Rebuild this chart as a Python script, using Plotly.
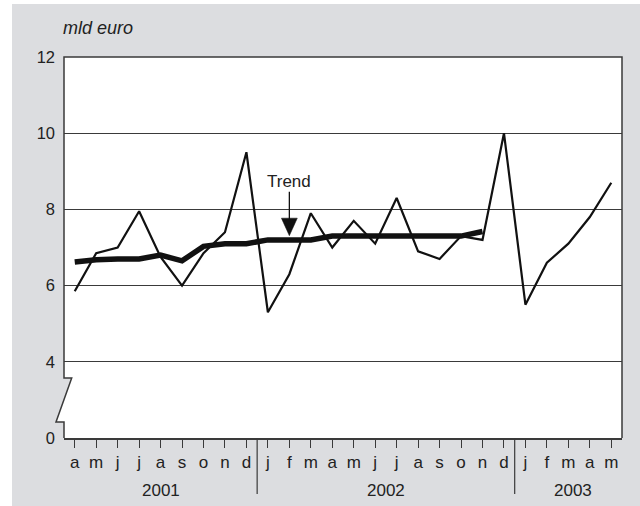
import plotly.graph_objects as go

# ---- data ----
months = ["a", "m", "j", "j", "a", "s", "o", "n", "d",
          "j", "f", "m", "a", "m", "j", "j", "a", "s", "o", "n", "d",
          "j", "f", "m", "a", "m"]
years = ["2001", "2002", "2003"]
year_centers = [4, 14.5, 23.2]
year_breaks = [8.5, 20.5]
series = [5.85, 6.85, 7.0, 7.95, 6.75, 6.0, 6.85, 7.4, 9.5,
          5.3, 6.3, 7.9, 7.0, 7.7, 7.1, 8.3, 6.9, 6.7, 7.3, 7.2, 10.0,
          5.5, 6.6, 7.1, 7.8, 8.7]
trend = [6.62, 6.68, 6.7, 6.7, 6.8, 6.65, 7.03, 7.1, 7.1,
         7.2, 7.2, 7.2, 7.3, 7.3, 7.3, 7.3, 7.3, 7.3, 7.3, 7.42]
ytick_vals = [2, 4, 6, 8, 10, 12]      # axis is broken: "0" is drawn at 2
ytick_text = ["0", "4", "6", "8", "10", "12"]

W, H = 640, 506
ML, MR, MT, MB = 64, 18, 57, 68
PW, PH = W - ML - MR, H - MT - MB
GRAY = "#dcdde0"
LINE = "#3a3a3a"
TXT = "#222222"
FONT = "Arial, Liberation Sans, sans-serif"


def px(x):
    return (x - ML) / PW


def py(y):
    return (H - MB - y) / PH


x_idx = list(range(len(months)))

fig = go.Figure()
fig.add_trace(go.Scatter(x=x_idx, y=series, mode="lines",
                         line=dict(color="#111111", width=2.2), hoverinfo="skip"))
fig.add_trace(go.Scatter(x=x_idx[:len(trend)], y=trend, mode="lines",
                         line=dict(color="#111111", width=5.5), hoverinfo="skip"))

shapes = []
# white strips outside the grey panel
shapes.append(dict(type="rect", xref="paper", yref="paper",
                   x0=px(0), x1=px(W), y0=py(0), y1=py(4),
                   fillcolor="white", line=dict(width=0), layer="above"))
shapes.append(dict(type="rect", xref="paper", yref="paper",
                   x0=px(0), x1=px(12), y0=py(0), y1=py(H),
                   fillcolor="white", line=dict(width=0), layer="above"))
# axis-break zigzag fill
shapes.append(dict(type="path", xref="paper", yref="paper",
                   path=f"M {px(64)},{py(378)} L {px(71.7)},{py(378)} L {px(64)},{py(399.6)} Z",
                   fillcolor=GRAY, line=dict(width=0), layer="above"))
shapes.append(dict(type="path", xref="paper", yref="paper",
                   path=f"M {px(56)},{py(422)} L {px(64)},{py(422)} L {px(64)},{py(399.6)} Z",
                   fillcolor="white", line=dict(width=0), layer="above"))
# frame
frame_path = (f"M {px(64)},{py(438)} L {px(64)},{py(422)} L {px(56)},{py(422)} "
              f"L {px(71.7)},{py(378)} L {px(64)},{py(378)} L {px(64)},{py(57)} "
              f"L {px(622)},{py(57)} L {px(622)},{py(438)}")
shapes.append(dict(type="path", xref="paper", yref="paper", path=frame_path,
                   line=dict(color=LINE, width=1.5), layer="above"))
# year separators
for b in year_breaks:
    shapes.append(dict(type="line", xref="x", yref="paper", x0=b, x1=b,
                       y0=0, y1=py(494), line=dict(color=LINE, width=1.2)))
# trend arrow
shapes.append(dict(type="line", xref="x", yref="y", x0=10, x1=10, y0=8.46, y1=7.75,
                   line=dict(color="#111111", width=1.3)))
shapes.append(dict(type="path", xref="x", yref="y",
                   path="M 9.63,7.77 L 10.37,7.77 L 10,7.31 Z",
                   fillcolor="#111111", line=dict(color="#111111", width=0.5)))

annotations = [
    dict(text="<i>mld euro</i>", xref="paper", yref="paper", x=px(61), y=py(28),
         xanchor="left", yanchor="middle", showarrow=False,
         font=dict(size=18, color=TXT, family=FONT)),
    dict(text="Trend", xref="x", yref="y", x=10, y=8.74,
         xanchor="center", yanchor="middle", showarrow=False,
         font=dict(size=17, color=TXT, family=FONT)),
]
for yr, c in zip(years, year_centers):
    annotations.append(dict(text=yr, xref="x", yref="paper", x=c, y=py(490),
                            xanchor="center", yanchor="middle", showarrow=False,
                            font=dict(size=17, color=TXT, family=FONT)))

fig.update_layout(
    width=W, height=H,
    margin=dict(l=ML, r=MR, t=MT, b=MB, pad=0),
    paper_bgcolor=GRAY, plot_bgcolor="white",
    showlegend=False,
    shapes=shapes, annotations=annotations,
    font=dict(family=FONT, color=TXT, size=16),
    xaxis=dict(range=[-0.5, len(months) - 0.5], tickmode="array",
               tickvals=x_idx, ticktext=months, ticks="outside", ticklen=8,
               tickwidth=1.2, tickcolor=LINE, showline=True, linecolor=LINE,
               linewidth=1.5, showgrid=False, zeroline=False,
               tickfont=dict(size=17, color=TXT, family=FONT), fixedrange=True),
    yaxis=dict(range=[2, 12], tickmode="array", tickvals=ytick_vals,
               ticktext=ytick_text, ticks="", showline=False, showgrid=True,
               gridcolor=LINE, gridwidth=1, zeroline=False,
               ticklabelstandoff=8,
               tickfont=dict(size=16.5, color=TXT, family=FONT), fixedrange=True),
)

# remove the browser's default page margin so the figure sits at (0, 0)
fig.write_html("out.html",
               config={"displayModeBar": False},
               post_script="document.body.style.margin='0';document.body.style.overflow='hidden';")
